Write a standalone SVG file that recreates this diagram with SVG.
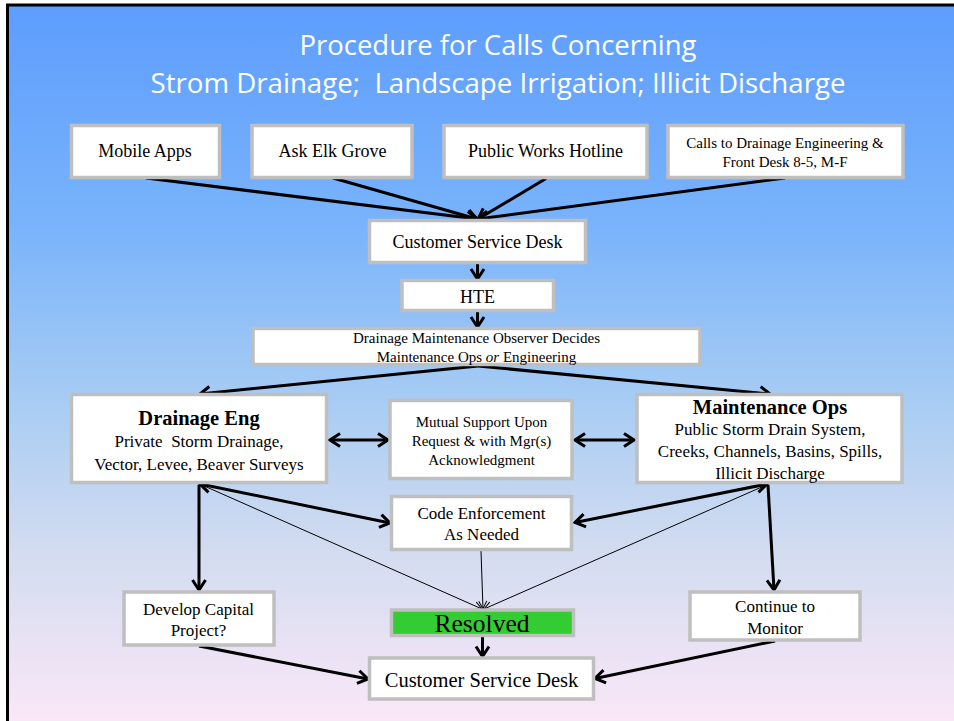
<svg xmlns="http://www.w3.org/2000/svg" width="954" height="721" viewBox="0 0 954 721">
<defs>
<linearGradient id="bg" x1="0" y1="0" x2="0" y2="1">
<stop offset="0" stop-color="#5d9dfd"/>
<stop offset="0.3" stop-color="#79b3fb"/>
<stop offset="0.55" stop-color="#a9cdf3"/>
<stop offset="0.75" stop-color="#d3dcf0"/>
<stop offset="1" stop-color="#fde8f8"/>
</linearGradient>
<marker id="ah" viewBox="-12 -9 14 18" refX="0" refY="0" markerWidth="14" markerHeight="18" markerUnits="userSpaceOnUse" orient="auto-start-reverse">
<path d="M-10,-6.5 L0,0 L-10,6.5" fill="none" stroke="#000" stroke-width="3"/>
</marker>
<marker id="ahs" viewBox="-10 -6 12 12" refX="0" refY="0" markerWidth="12" markerHeight="12" markerUnits="userSpaceOnUse" orient="auto-start-reverse">
<path d="M-8,-4 L0,0 L-8,4" fill="none" stroke="#000" stroke-width="1"/>
</marker>
</defs>
<style>
.box{fill:#fff;stroke:#bfbfbf;stroke-width:3.5}
.t{font-family:"Liberation Serif","Times New Roman",serif;fill:#000;text-anchor:middle}
.b{font-weight:bold}
.title{font-family:"Open Sans","Noto Sans",sans-serif;fill:#fff;font-size:28px;text-anchor:middle}
.thick{stroke:#000;stroke-width:3;fill:none}
.thin{stroke:#000;stroke-width:1;fill:none}
</style>
<rect x="0" y="0" width="954" height="721" fill="#fff"/>
<rect x="7.5" y="5" width="960" height="730" fill="url(#bg)" stroke="#000" stroke-width="3"/>
<g id="title">
<text class="title" x="498" y="55" textLength="397" lengthAdjust="spacingAndGlyphs">Procedure for Calls Concerning</text>
<text class="title" x="498" y="92.5" textLength="695" lengthAdjust="spacingAndGlyphs" xml:space="preserve">Strom Drainage;  Landscape Irrigation; Illicit Discharge</text>
</g>
<g id="connectors">
<line class="thick" x1="146" y1="178" x2="477" y2="219" marker-end="url(#ah)"/>
<line class="thick" x1="333" y1="178" x2="477" y2="219" marker-end="url(#ah)"/>
<line class="thick" x1="546" y1="178.5" x2="478" y2="219" marker-end="url(#ah)"/>
<line class="thick" x1="785" y1="178" x2="478" y2="219" marker-end="url(#ah)"/>
<line class="thick" x1="477.5" y1="263" x2="477.5" y2="279" marker-end="url(#ah)"/>
<line class="thick" x1="477.5" y1="312" x2="477.5" y2="327" marker-end="url(#ah)"/>
<line class="thick" x1="478" y1="366" x2="200" y2="394" marker-end="url(#ah)"/>
<line class="thick" x1="478" y1="366" x2="770" y2="394" marker-end="url(#ah)"/>
<line class="thick" x1="330" y1="440" x2="388" y2="440" marker-start="url(#ah)" marker-end="url(#ah)"/>
<line class="thick" x1="575" y1="440" x2="634" y2="440" marker-start="url(#ah)" marker-end="url(#ah)"/>
<line class="thick" x1="199" y1="485" x2="199" y2="590" marker-end="url(#ah)"/>
<line class="thick" x1="200" y1="484" x2="390" y2="523" marker-start="url(#ah)" marker-end="url(#ah)"/>
<line class="thin" x1="202" y1="485" x2="482" y2="609" marker-end="url(#ahs)"/>
<line class="thick" x1="767" y1="484" x2="575" y2="522.5" marker-start="url(#ah)" marker-end="url(#ah)"/>
<line class="thick" x1="768" y1="485" x2="774" y2="590" marker-end="url(#ah)"/>
<line class="thin" x1="764" y1="486" x2="484" y2="609" marker-end="url(#ahs)"/>
<line class="thin" x1="481" y1="551" x2="483" y2="609" marker-end="url(#ahs)"/>
<line class="thick" x1="482.5" y1="637" x2="482.5" y2="656.5" marker-end="url(#ah)"/>
<line class="thick" x1="199" y1="646" x2="368" y2="679" marker-end="url(#ah)"/>
<line class="thick" x1="775" y1="641" x2="595" y2="678.5" marker-end="url(#ah)"/>
</g>
<g id="mobile-apps">
<rect class="box" x="71.5" y="125.5" width="148" height="52"/>
<text class="t" x="145" y="157" font-size="18">Mobile Apps</text>
</g>
<g id="ask-elk-grove">
<rect class="box" x="252" y="125.5" width="160" height="52"/>
<text class="t" x="332.5" y="157" font-size="18">Ask Elk Grove</text>
</g>
<g id="public-works-hotline">
<rect class="box" x="444" y="125.5" width="203" height="52"/>
<text class="t" x="545.5" y="157" font-size="18">Public Works Hotline</text>
</g>
<g id="calls-drainage">
<rect class="box" x="668" y="125.5" width="235" height="52"/>
<text class="t" x="785" y="147.5" font-size="15">Calls to Drainage Engineering &amp;</text>
<text class="t" x="785" y="166.5" font-size="15">Front Desk 8-5, M-F</text>
</g>
<g id="customer-service-desk-1">
<rect class="box" x="369.5" y="220.5" width="216" height="42"/>
<text class="t" x="477.5" y="247.5" font-size="18">Customer Service Desk</text>
</g>
<g id="hte">
<rect class="box" x="402" y="280.5" width="151.5" height="30"/>
<text class="t" x="477.5" y="302.5" font-size="18">HTE</text>
</g>
<g id="observer">
<rect class="box" x="253" y="328.5" width="447" height="36"/>
<text class="t" x="476.5" y="343" font-size="15">Drainage Maintenance Observer Decides</text>
<text class="t" x="476.5" y="362" font-size="15">Maintenance Ops <tspan font-style="italic">or</tspan> Engineering</text>
</g>
<g id="drainage-eng">
<rect class="box" x="71.5" y="394.5" width="255" height="88"/>
<text class="t b" x="199" y="425" font-size="20.5">Drainage Eng</text>
<text class="t" x="199" y="447" font-size="17" xml:space="preserve">Private  Storm Drainage,</text>
<text class="t" x="199" y="469.5" font-size="17">Vector, Levee, Beaver Surveys</text>
</g>
<g id="mutual-support">
<rect class="box" x="390" y="400.5" width="182" height="78"/>
<text class="t" x="481.5" y="426.5" font-size="15">Mutual Support Upon</text>
<text class="t" x="481.5" y="446" font-size="15">Request &amp; with Mgr(s)</text>
<text class="t" x="481.5" y="465" font-size="15">Acknowledgment</text>
</g>
<g id="maintenance-ops">
<rect class="box" x="637" y="394.5" width="265" height="88"/>
<text class="t b" x="770" y="413.5" font-size="20.5">Maintenance Ops</text>
<text class="t" x="770" y="435" font-size="17">Public Storm Drain System,</text>
<text class="t" x="770" y="456.5" font-size="17">Creeks, Channels, Basins, Spills,</text>
<text class="t" x="770" y="478.5" font-size="17">Illicit Discharge</text>
</g>
<g id="code-enforcement">
<rect class="box" x="391.5" y="496.5" width="180" height="53"/>
<text class="t" x="481.5" y="518.5" font-size="17">Code Enforcement</text>
<text class="t" x="481.5" y="540" font-size="17">As Needed</text>
</g>
<g id="develop-capital">
<rect class="box" x="124" y="592" width="150" height="53"/>
<text class="t" x="198.5" y="615" font-size="17">Develop Capital</text>
<text class="t" x="198.5" y="636" font-size="17">Project?</text>
</g>
<g id="resolved">
<rect x="391.5" y="610" width="182" height="25.5" fill="#33cc33" stroke="#bfbfbf" stroke-width="3.5"/>
<text class="t" x="482" y="632" font-size="25.5">Resolved</text>
</g>
<g id="continue-monitor">
<rect class="box" x="690" y="592" width="170" height="48"/>
<text class="t" x="775" y="612" font-size="17">Continue to</text>
<text class="t" x="775" y="633.5" font-size="17">Monitor</text>
</g>
<g id="customer-service-desk-2">
<rect class="box" x="369.5" y="658" width="224" height="41"/>
<text class="t" x="481.5" y="687" font-size="20.5">Customer Service Desk</text>
</g>
</svg>
